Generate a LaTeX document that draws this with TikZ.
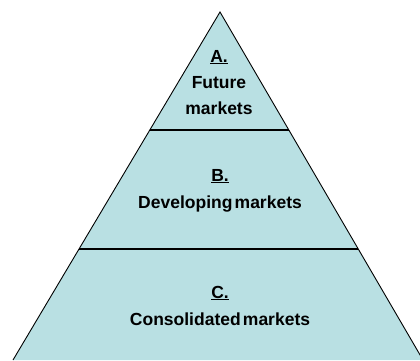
\documentclass[tikz,border=0pt]{standalone}
\usepackage{fontspec}
\setmainfont{Liberation Sans}[WordSpace=0.45]
\usetikzlibrary{calc}
\definecolor{pyrfill}{RGB}{185,224,227}
\tikzset{
  lbl/.style={anchor=base, inner sep=0pt, font=\fontsize{17.5}{21}\selectfont\bfseries, text=black},
  edge/.style={draw=black, line width=0.9pt, line join=miter},
  divider/.style={draw=black, line width=2pt}
}
\begin{document}
\begin{tikzpicture}[x=1pt,y=-1pt]
\useasboundingbox (0,0) rectangle (420,360);
\clip (0,0) rectangle (420,360);
\fill[white] (0,0) rectangle (420,360);
\coordinate (apex) at (220,12);
\coordinate (bl) at (13,360);
\coordinate (br) at (423,360);
\fill[pyrfill] (apex) -- (bl) -- (br) -- cycle;
\draw[edge] (bl) -- (apex) -- (br);
\coordinate (d1l) at ($(apex)!0.3391!(bl)$);
\coordinate (d1r) at ($(apex)!0.3391!(br)$);
\coordinate (d2l) at ($(apex)!0.6810!(bl)$);
\coordinate (d2r) at ($(apex)!0.6810!(br)$);
\draw[divider] (d1l) -- (d1r);
\draw[divider] (d2l) -- (d2r);
\node[lbl] (a1) at (219,62) {\underline{A.}};
\node[lbl] (a2) at (219,88) {Future};
\node[lbl] (a3) at (219,114) {markets};
\node[lbl] (b1) at (220,181) {\underline{B.}};
\node[lbl] (b2) at (220,208) {Developing markets};
\node[lbl] (c1) at (220,298) {\underline{C.}};
\node[lbl] (c2) at (220,325) {Consolidated markets};
\end{tikzpicture}
\end{document}
